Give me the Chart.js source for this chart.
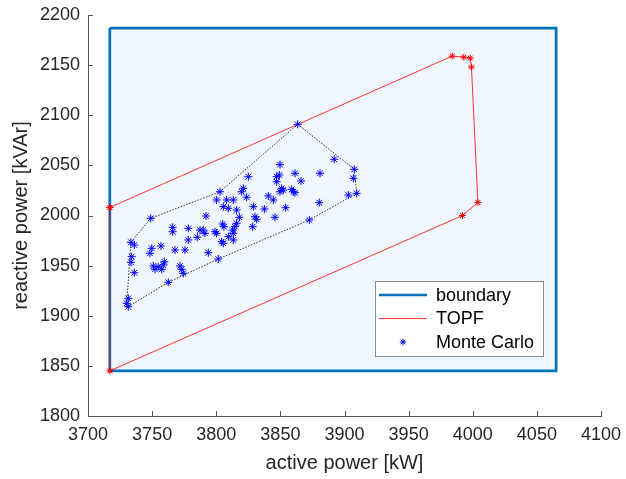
<!DOCTYPE html>
<html lang="en">
<head>
<meta charset="UTF-8">
<title>Operating region</title>
<style>
  html, body { margin: 0; padding: 0; background: #fff; }
  canvas { display: block; }
</style>
</head>
<body>
<canvas id="pq-chart" width="626" height="479"></canvas>
<script src="https://cdn.jsdelivr.net/npm/chart.js@4.4.1/dist/chart.umd.min.js"></script>
<script>
    // axis ticks
    const xTicks = [3700, 3750, 3800, 3850, 3900, 3950, 4000, 4050, 4100];
    const yTicks = [1800, 1850, 1900, 1950, 2000, 2050, 2100, 2150, 2200];

    // feasible boundary (closed rectangle)
    const boundaryP = [3717, 4065, 4065, 3717, 3717];
    const boundaryQ = [2187, 2187, 1845, 1845, 2187];

    // TOPF region vertices (closed)
    const topfP = [3717, 3984, 3993, 3998, 3999, 4004, 3992, 3717, 3717];
    const topfQ = [2008, 2159, 2158, 2157, 2148, 2013, 2000, 1845, 2008];

    // Monte Carlo samples
    const mcP = [
        3825.0, 3821.1, 3819.8, 3802.9, 3823.7, 3800.3, 3808.1, 3813.3, 3805.5, 3809.4,
        3815.9, 3828.9, 3837.5, 3840.6, 3844.5, 3847.1, 3845.8, 3830.2, 3831.5, 3828.4,
        3818.0, 3815.9, 3814.6, 3792.0, 3805.0, 3806.0, 3812.8, 3813.3, 3809.4, 3813.3,
        3804.2, 3805.5, 3799.0, 3800.3, 3789.9, 3791.2, 3787.3, 3785.2, 3778.2, 3778.2,
        3775.6, 3767.8, 3766.0, 3766.0, 3756.9, 3749.7, 3748.3, 3793.8, 3801.6, 3759.5,
        3758.7, 3757.5, 3754.8, 3752.2, 3750.9, 3771.7, 3773.1, 3774.3, 3762.6, 3736.1,
        3734.1, 3733.5, 3736.1, 3733.5, 3748.9, 3731.4, 3730.2, 3731.4, 3863.5, 3892.0,
        3907.6, 3906.9, 3903.0, 3909.5, 3880.9, 3880.3, 3872.6, 3849.7, 3849.2, 3847.1,
        3861.4, 3866.1, 3851.0, 3852.3, 3849.7, 3858.8, 3860.1, 3861.4, 3854.1
    ];
    const mcQ = [
        2038.7, 2027.1, 2023.7, 2023.7, 2018.2, 2015.5, 2015.5, 2015.5, 2008.8, 2007.2,
        2005.5, 2008.8, 2006.5, 2019.5, 2015.5, 2033.7, 1998.2, 1998.8, 1996.2, 1988.8,
        1998.2, 1992.2, 1988.8, 1999.5, 1991.5, 1988.8, 1985.5, 1982.2, 1978.9, 1975.6,
        1973.9, 1972.3, 1983.8, 1982.2, 1985.5, 1982.2, 1985.5, 1978.3, 1987.2, 1975.6,
        1965.6, 1965.6, 1988.2, 1983.8, 1969.6, 1967.3, 1962.3, 1962.9, 1956.6, 1953.9,
        1950.6, 1946.3, 1948.9, 1946.3, 1949.6, 1949.6, 1946.3, 1942.3, 1933.4, 1970.6,
        1958.9, 1953.3, 1942.9, 1973.3, 1997.2, 1917.4, 1912.4, 1909.0, 2091.0, 2056.1,
        2046.1, 2037.1, 2020.4, 2022.1, 2042.1, 2012.8, 1995.5, 2050.7, 2040.4, 2038.7,
        2042.1, 2034.4, 2027.1, 2025.4, 2023.7, 2026.1, 2023.7, 2022.7, 2007.8
    ];

    // envelope around the samples (closed)
    const hullP = [3863.5, 3907.6, 3909.5, 3872.6, 3801.6, 3762.6, 3731.4, 3730.2, 3733.5, 3748.9, 3802.9, 3863.5];
    const hullQ = [2091.0, 2046.1, 2022.1, 1995.5, 1956.6, 1933.4, 1909.0, 1912.4, 1973.3, 1997.2, 2023.7, 2091.0];

    function toPoints(xs, ys) {
        return xs.map((v, i) => ({x: v, y: ys[i]}));
    }

    const axisColor = '#262626';
    Chart.defaults.font.family = "'Liberation Sans', Arial, Helvetica, sans-serif";
    Chart.defaults.color = axisColor;

    // MATLAB style ticks pointing into the plot
    const inwardTicks = {
        id: 'inwardTicks',
        afterDraw(chart) {
            const {ctx, chartArea, scales} = chart;
            ctx.save();
            ctx.strokeStyle = '#555555';
            ctx.lineWidth = 1;
            ctx.beginPath();
            xTicks.forEach(v => {
                const px = Math.round(scales.x.getPixelForValue(v)) + 0.5;
                ctx.moveTo(px, chartArea.bottom);
                ctx.lineTo(px, chartArea.bottom - 5);
            });
            yTicks.forEach(v => {
                const py = Math.round(scales.y.getPixelForValue(v)) + 0.5;
                ctx.moveTo(chartArea.left, py);
                ctx.lineTo(chartArea.left + 5, py);
            });
            ctx.stroke();
            ctx.restore();
        }
    };

    // legend box sitting inside the axes, lower right
    const insideLegend = {
        id: 'insideLegend',
        afterDraw(chart) {
            const ctx = chart.ctx;
            const left = 375, top = 281, w = 168, h = 75;
            const rows = [295, 318.5, 342];
            ctx.save();
            ctx.fillStyle = '#ffffff';
            ctx.fillRect(left, top, w, h);
            ctx.strokeStyle = '#8c8c8c';
            ctx.lineWidth = 1;
            ctx.strokeRect(left + 0.5, top + 0.5, w, h);

            const entries = chart.data.datasets.filter(d => d.label);
            entries.forEach((d, i) => {
                const y = rows[i];
                if (d.showLine) {
                    ctx.strokeStyle = d.borderColor;
                    ctx.lineWidth = d.borderWidth;
                    ctx.beginPath();
                    ctx.moveTo(379, y);
                    ctx.lineTo(427, y);
                    ctx.stroke();
                } else {
                    ctx.strokeStyle = d.borderColor;
                    ctx.lineWidth = 1;
                    const r = 3.2;
                    ctx.beginPath();
                    ctx.moveTo(403 - r, y); ctx.lineTo(403 + r, y);
                    ctx.moveTo(403, y - r); ctx.lineTo(403, y + r);
                    const q = r * Math.SQRT1_2;
                    ctx.moveTo(403 - q, y - q); ctx.lineTo(403 + q, y + q);
                    ctx.moveTo(403 - q, y + q); ctx.lineTo(403 + q, y - q);
                    ctx.stroke();
                }
                ctx.fillStyle = '#000000';
                ctx.font = "18px 'Liberation Sans', Arial, sans-serif";
                ctx.textBaseline = 'middle';
                ctx.fillText(d.label, 436, y + 1);
            });
            ctx.restore();
        }
    };

    const chart = new Chart(document.getElementById('pq-chart'), {
        type: 'scatter',
        data: {
            datasets: [
                {
                    label: 'boundary',
                    data: toPoints(boundaryP, boundaryQ),
                    showLine: true,
                    borderColor: '#0072BD',
                    borderWidth: 2.7,
                    backgroundColor: 'rgb(239,246,253)',
                    fill: 'shape',
                    pointRadius: 0,
                    tension: 0,
                    order: 4
                },
                {
                    label: 'TOPF',
                    data: toPoints(topfP, topfQ),
                    showLine: true,
                    borderColor: '#ff0000',
                    borderWidth: 0.8,
                    fill: false,
                    pointStyle: 'star',
                    pointRadius: 3.5,
                    pointBorderColor: '#ff0000',
                    pointBorderWidth: 1,
                    tension: 0,
                    order: 3
                },
                {
                    data: toPoints(hullP, hullQ),
                    showLine: true,
                    borderColor: '#1a1a1a',
                    borderWidth: 0.9,
                    borderDash: [1.5, 1.5],
                    fill: false,
                    pointRadius: 0,
                    tension: 0,
                    order: 2
                },
                {
                    label: 'Monte Carlo',
                    data: toPoints(mcP, mcQ),
                    showLine: false,
                    borderColor: '#0000ff',
                    pointStyle: 'star',
                    pointRadius: 4,
                    pointBorderColor: '#0000ff',
                    pointBorderWidth: 1,
                    order: 1
                }
            ]
        },
        options: {
            responsive: false,
            devicePixelRatio: 1,
            animation: false,
            events: [],
            layout: {padding: {left: 0, right: 25, top: 15, bottom: 0}},
            plugins: {
                legend: {display: false},
                tooltip: {enabled: false},
                filler: {drawTime: 'beforeDatasetsDraw'}
            },
            scales: {
                x: {
                    type: 'linear',
                    min: xTicks[0],
                    max: xTicks[xTicks.length - 1],
                    afterBuildTicks: s => { s.ticks = xTicks.map(v => ({value: v})); },
                    afterFit: s => { s.height = 63; s.paddingLeft = 0; s.paddingRight = 0; },
                    ticks: {font: {size: 18}, padding: 8, maxRotation: 0, color: axisColor,
                        callback: v => String(v)},
                    grid: {display: true, drawOnChartArea: false, drawTicks: false},
                    border: {display: true, color: '#555555', width: 1},
                    title: {
                        display: true,
                        text: 'active power [kW]',
                        font: {size: 20},
                        color: axisColor,
                        padding: {top: 4, bottom: 4}
                    }
                },
                y: {
                    type: 'linear',
                    min: yTicks[0],
                    max: yTicks[yTicks.length - 1],
                    afterBuildTicks: s => { s.ticks = yTicks.map(v => ({value: v})); },
                    afterFit: s => { s.width = 88; s.paddingTop = 0; s.paddingBottom = 0; },
                    ticks: {font: {size: 18}, padding: 8, color: axisColor,
                        callback: v => String(v)},
                    grid: {display: true, drawOnChartArea: false, drawTicks: false},
                    border: {display: true, color: '#555555', width: 1},
                    title: {
                        display: true,
                        text: 'reactive power [kVAr]',
                        font: {size: 20},
                        color: axisColor,
                        padding: {top: 9, bottom: 4}
                    }
                }
            }
        },
        plugins: [inwardTicks, insideLegend]
    });
</script>
</body>
</html>
